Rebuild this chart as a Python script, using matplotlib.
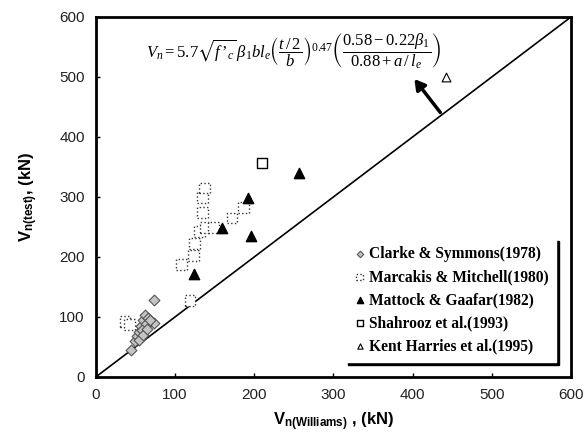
import numpy as np
import matplotlib
matplotlib.use('Agg')
import matplotlib.pyplot as plt

plt.rcParams['mathtext.fontset'] = 'custom'
plt.rcParams['mathtext.rm'] = 'Liberation Serif'
plt.rcParams['mathtext.it'] = 'Liberation Serif:italic'
plt.rcParams['mathtext.bf'] = 'Liberation Sans:bold'
plt.rcParams['mathtext.fallback'] = 'stix'

# data (kN)
clarke_x = [45, 74, 50, 52, 55, 57, 60, 62, 66, 70, 73, 63, 58, 54, 60, 65, 68]
clarke_y = [45, 128, 60, 68, 75, 85, 95, 103, 98, 93, 90, 88, 78, 62, 70, 80, 95]

marcakis_x = [37, 43, 119, 108, 123, 125, 131, 138, 149, 135, 135, 137, 172, 186]
marcakis_y = [93, 87, 128, 187, 202, 222, 242, 249, 249, 274, 299, 315, 265, 282]

mattock_x = [124, 159, 192, 196, 256]
mattock_y = [172, 249, 299, 235, 340]

shahrooz_x = [210]
shahrooz_y = [357]

kent_x = [442]
kent_y = [500]

fig = plt.figure(figsize=(5.84, 4.43), dpi=100)
ax = fig.add_axes([0.164, 0.149, 0.814, 0.813])

ax.plot([0, 600], [0, 600], color='black', lw=1.2, zorder=1)

ax.scatter(clarke_x, clarke_y, marker='D', s=30, facecolor='#c4c4c4',
           edgecolor='#555555', linewidths=0.8, zorder=3,
           label='Clarke & Symmons(1978)')
ax.scatter(marcakis_x, marcakis_y, marker='s', s=60, facecolor='white',
           edgecolor='#333333', linewidths=1.0, linestyle=':', zorder=3,
           label='Marcakis & Mitchell(1980)')
ax.scatter(mattock_x, mattock_y, marker='^', s=55, color='black', zorder=3,
           label='Mattock & Gaafar(1982)')
ax.scatter(shahrooz_x, shahrooz_y, marker='s', s=60, facecolor='white',
           edgecolor='black', linewidths=1.0, zorder=3,
           label='Shahrooz et al.(1993)')
ax.scatter(kent_x, kent_y, marker='^', s=40, facecolor='white',
           edgecolor='black', linewidths=0.8, zorder=3,
           label='Kent Harries et al.(1995)')

# formula and arrow
formula = (r"$V_n = 5.7\sqrt{f\,\mathrm{QQ}_c}\,\beta_1 b l_e"
           r"\left(\dfrac{t\,/\,2}{b}\right)^{0.47}"
           r"\left(\dfrac{0.58 - 0.22\beta_1}{0.88 + a\,/\,l_e}\right)$")
formula = formula.replace('QQ', '\u2019')
ax.text(250, 542, formula, fontsize=12, ha='center', va='center')
ax.annotate('', xy=(400, 500), xytext=(437, 437),
            arrowprops=dict(arrowstyle='-|>,head_length=0.6,head_width=0.35',
                            color='black', lw=2.5))

ax.set_xlim(0, 600)
ax.set_ylim(0, 600)
ax.set_xticks(range(0, 601, 100))
ax.set_yticks(range(0, 601, 100))
ax.tick_params(direction='in', length=3, width=1, labelsize=11,
               labelcolor='#222222', pad=8)
for lab in ax.get_xticklabels() + ax.get_yticklabels():
    lab.set_family('Liberation Sans')
for sp in ax.spines.values():
    sp.set_linewidth(2)

ax.set_xlabel(r'$\mathbf{V_{n(Williams)}}$ , (kN)', fontsize=12,
              fontweight='bold', family='Liberation Sans', labelpad=6)
ax.set_ylabel(r'$\mathbf{V_{n(test)}}$, (kN)', fontsize=12,
              fontweight='bold', family='Liberation Sans', labelpad=14)

# legend: only the black shadow shows on the right and bottom
leg = ax.legend(loc='lower right', bbox_to_anchor=(0.985, 0.02),
                prop={'family': 'Liberation Serif', 'weight': 'bold', 'size': 11.2},
                fancybox=False, edgecolor='white', facecolor='white', framealpha=1,
                shadow={'color': 'black', 'alpha': 1},
                handletextpad=0.15, handlelength=0.9, borderpad=0.5,
                labelspacing=0.45, markerscale=0.6)
leg.get_frame().set_linewidth(1.0)

fig.savefig('out.png', dpi=100)
